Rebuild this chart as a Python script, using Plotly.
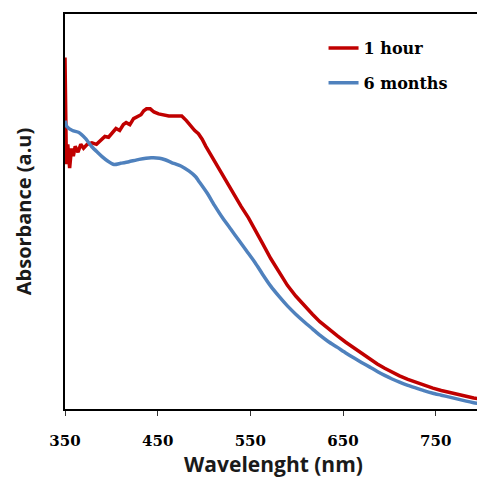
import plotly.graph_objects as go

# Wavelength (nm) and absorbance (a.u.)
wl_1h = [350, 350.5, 351.5, 353, 355, 357, 359, 361, 364, 367, 370, 374, 379, 384, 389, 393,
         397, 401, 405, 409, 413, 416, 420, 424, 428, 432, 435, 438, 442, 446, 451, 456, 462,
         469, 476, 481, 486, 490, 494, 498, 502, 507, 512, 519, 526, 533, 540, 548, 555, 563,
         572, 581, 590, 599, 608, 617, 625, 634, 644, 653, 662, 670, 679, 687, 695, 703, 711,
         720, 729, 738, 747, 756, 765, 774, 783, 791, 800]
abs_1h = [0.89, 0.80, 0.62, 0.67, 0.61, 0.66, 0.64, 0.665, 0.65, 0.67, 0.66, 0.67, 0.674, 0.67,
          0.68, 0.69, 0.688, 0.70, 0.71, 0.705, 0.72, 0.725, 0.72, 0.735, 0.74, 0.745, 0.755,
          0.76, 0.76, 0.752, 0.747, 0.745, 0.742, 0.742, 0.742, 0.73, 0.715, 0.705, 0.697,
          0.683, 0.665, 0.645, 0.622, 0.594, 0.568, 0.54, 0.513, 0.484, 0.456, 0.420,
          0.381, 0.345, 0.313, 0.286, 0.262, 0.240, 0.221, 0.203, 0.185, 0.169, 0.154, 0.140,
          0.126, 0.114, 0.103, 0.093, 0.084, 0.075, 0.067, 0.060, 0.053, 0.047, 0.042, 0.037,
          0.032, 0.028, 0.025]

wl_6m = [350, 352, 358, 365, 372, 379, 385, 390, 396, 403, 410, 419, 430, 443, 452, 458, 465,
         476, 484, 491, 494, 503, 512, 520, 529, 537, 546, 555, 563, 572, 581, 590, 599, 608,
         617, 625, 634, 644, 653, 662, 670, 679, 687, 695, 703, 711, 720, 729, 738, 747, 756,
         765, 774, 783, 791, 800]
abs_6m = [0.73, 0.715, 0.705, 0.70, 0.685, 0.664, 0.65, 0.639, 0.628, 0.619, 0.622, 0.626,
          0.632, 0.636, 0.635, 0.631, 0.624, 0.614, 0.602, 0.588, 0.578, 0.548, 0.513, 0.484,
          0.455, 0.429, 0.400, 0.371, 0.342, 0.311, 0.285, 0.261, 0.240, 0.221, 0.203, 0.187,
          0.171, 0.156, 0.142, 0.129, 0.118, 0.106, 0.095, 0.085, 0.076, 0.068, 0.060, 0.053,
          0.046, 0.040, 0.035, 0.030, 0.025, 0.020, 0.016, 0.012]

series_names = ["1 hour", "6 months"]
series_colors = ["#C00000", "#4F81BD"]
x_ticks = [350, 450, 550, 650, 750]

fig = go.Figure()
fig.add_trace(go.Scatter(x=wl_1h, y=abs_1h, mode="lines", name=series_names[0],
                         legendgroup="a",
                         line=dict(color=series_colors[0], width=3.5)))
fig.add_trace(go.Scatter(x=wl_6m, y=abs_6m, mode="lines", name=series_names[1],
                         legendgroup="b",
                         line=dict(color=series_colors[1], width=3.5,
                                   shape="spline", smoothing=0.6)))

# page body has an 8px margin, so the figure is sized to fit the window after it
fig.update_layout(
    width=477, height=470,
    margin=dict(l=57, r=1, t=6, b=68),
    paper_bgcolor="white", plot_bgcolor="white",
    showlegend=True,
    legend=dict(x=0.62, y=0.957, xanchor="left", yanchor="top",
                bgcolor="rgba(0,0,0,0)", tracegroupgap=11, traceorder="grouped",
                font=dict(family="DejaVu Serif", size=16, color="black", weight="bold")),
    xaxis=dict(range=[350, 800], tickvals=x_ticks, ticktext=[str(t) for t in x_ticks],
               showgrid=False, zeroline=False, showline=True, mirror=True,
               linecolor="black", linewidth=2, ticks="outside", ticklen=5,
               tickcolor="#333333", tickwidth=1, ticklabelstandoff=12,
               tickfont=dict(family="DejaVu Serif", size=15, color="black", weight="bold"),
               title=dict(text="Wavelenght (nm)", standoff=12,
                          font=dict(family="Open Sans", size=21, color="#1a1a1a", weight="bold"))),
    yaxis=dict(range=[0, 1], showticklabels=False, ticks="", showgrid=False, zeroline=False,
               showline=True, mirror=True, linecolor="black", linewidth=2,
               title=dict(text="Absorbance (a.u)", standoff=26,
                          font=dict(family="Open Sans", size=20, color="#1a1a1a", weight="bold"))),
)

fig.write_html("out.html")
